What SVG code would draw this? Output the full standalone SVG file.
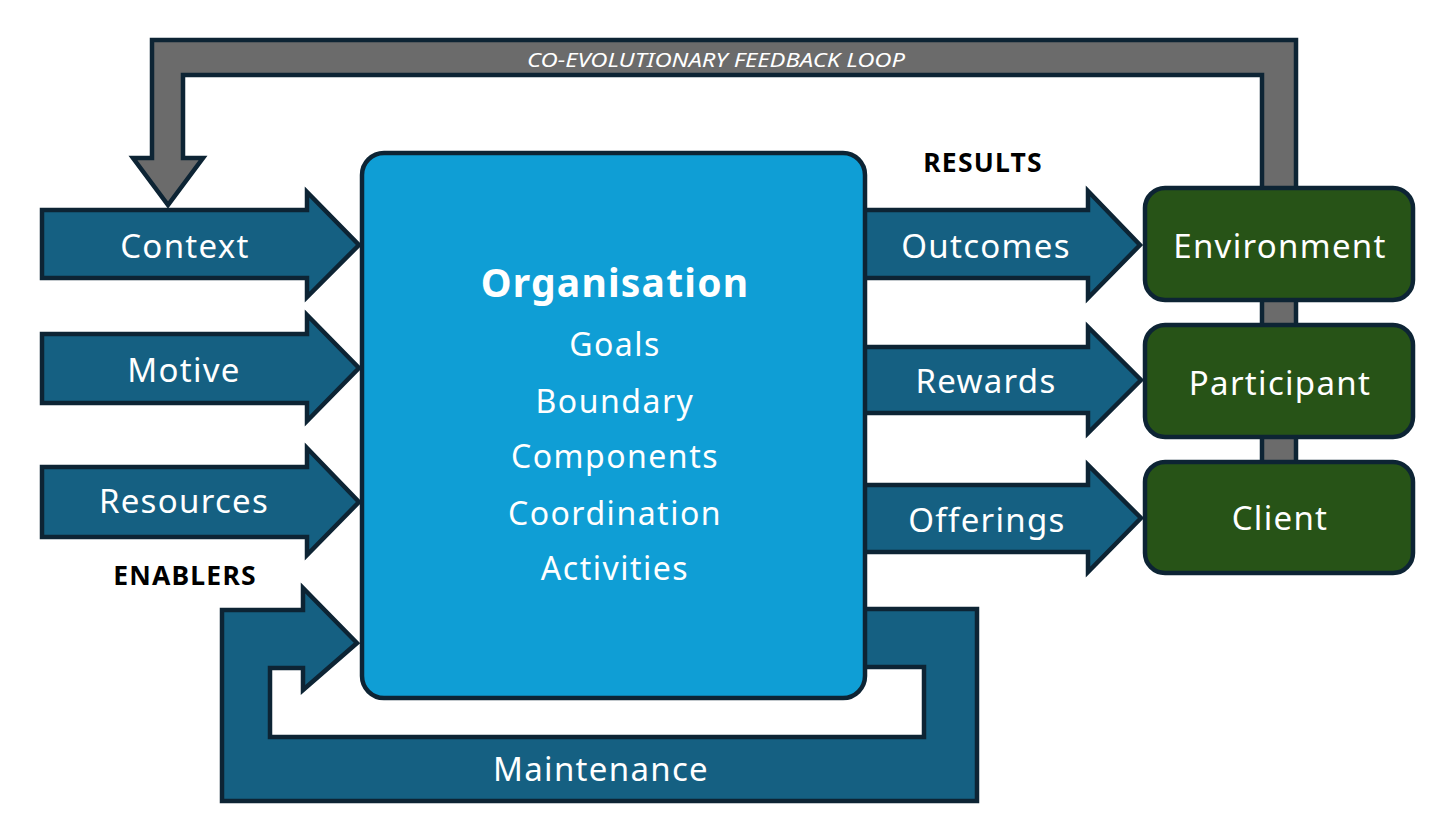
<svg xmlns="http://www.w3.org/2000/svg" width="1456" height="840" viewBox="0 0 1456 840">
  <style>
    .shape { stroke: #0d2434; stroke-width: 4.5; stroke-linejoin: miter; }
    .arrow { fill: #156082; }
    .grey { fill: #6b6b6b; }
    .org { fill: #0f9ed5; }
    .green { fill: #275317; }
    .lbl { font-family: "Noto Sans", "Open Sans", sans-serif; fill: #ffffff; font-size: 33px; text-anchor: middle; letter-spacing: 1.3px; }
    .list { font-family: "Noto Sans", "Open Sans", sans-serif; fill: #ffffff; font-size: 32px; text-anchor: middle; letter-spacing: 1.5px; }
    .title { font-family: "Noto Sans", "Open Sans", sans-serif; fill: #ffffff; font-size: 39px; font-weight: bold; text-anchor: middle; letter-spacing: 1.2px; }
    .head { font-family: "Noto Sans", "Open Sans", sans-serif; fill: #000000; font-size: 26.5px; font-weight: bold; text-anchor: middle; letter-spacing: 1.2px; }
    .loop { font-family: "Noto Sans", "Liberation Sans", sans-serif; fill: #ffffff; font-size: 19px; font-style: italic; text-anchor: middle; }
  </style>
  <rect width="1456" height="840" fill="#ffffff"/>

  <g id="connectors">
    <g id="feedback-loop">
      <path class="shape grey" d="M152,40 L1296,40 L1296,500 L1262,500 L1262,75 L183,75 L183,158 L203,158 L168,205 L133,158 L152,158 Z"/>
      <text class="loop" x="716" y="67" textLength="378" lengthAdjust="spacingAndGlyphs">CO-EVOLUTIONARY FEEDBACK LOOP</text>
    </g>
    <g id="maintenance">
      <path class="shape arrow" d="M222,610 L303,610 L303,588 L357,643 L303,690 L303,668 L270,668 L270,737 L924,737 L924,667 L850,667 L850,609 L977,609 L977,801 L222,801 Z"/>
      <text class="lbl" x="601" y="781">Maintenance</text>
    </g>
    <g id="context">
      <path class="shape arrow" d="M42,210 L307,210 L307,192 L359,245 L307,297 L307,278 L42,278 Z"/>
      <text class="lbl" x="185" y="258">Context</text>
    </g>
    <g id="motive">
      <path class="shape arrow" d="M42,334 L307,334 L307,315 L359,368 L307,421 L307,403 L42,403 Z"/>
      <text class="lbl" x="184" y="382">Motive</text>
    </g>
    <g id="resources">
      <path class="shape arrow" d="M42,467 L307,467 L307,448 L359,502 L307,555 L307,537 L42,537 Z"/>
      <text class="lbl" x="184" y="513">Resources</text>
    </g>
    <g id="outcomes">
      <path class="shape arrow" d="M850,210 L1088,210 L1088,191 L1140,245 L1088,298 L1088,278 L850,278 Z"/>
      <text class="lbl" x="986" y="258">Outcomes</text>
    </g>
    <g id="rewards">
      <path class="shape arrow" d="M850,347 L1088,347 L1088,327 L1141,380 L1088,433 L1088,413 L850,413 Z"/>
      <text class="lbl" x="986" y="393">Rewards</text>
    </g>
    <g id="offerings">
      <path class="shape arrow" d="M850,485 L1088,485 L1088,465 L1141,518 L1088,572 L1088,552 L850,552 Z"/>
      <text class="lbl" x="987" y="532">Offerings</text>
    </g>
  </g>

  <g id="organisation">
    <rect class="shape org" x="362" y="153" width="503" height="545" rx="22" ry="22"/>
    <text class="title" x="615" y="297">Organisation</text>
    <text class="list" x="615" y="356">Goals</text>
    <text class="list" x="615" y="413">Boundary</text>
    <text class="list" x="615" y="468">Components</text>
    <text class="list" x="615" y="525">Coordination</text>
    <text class="list" x="615" y="580">Activities</text>
  </g>

  <g id="environment">
    <rect class="shape green" x="1145" y="188" width="268" height="112" rx="20" ry="20"/>
    <text class="lbl" x="1280" y="258">Environment</text>
  </g>
  <g id="participant">
    <rect class="shape green" x="1145" y="325" width="268" height="112" rx="20" ry="20"/>
    <text class="lbl" x="1280" y="395">Participant</text>
  </g>
  <g id="client">
    <rect class="shape green" x="1145" y="462" width="268" height="111" rx="20" ry="20"/>
    <text class="lbl" x="1280" y="530">Client</text>
  </g>

  <g id="labels">
    <text class="head" x="983" y="172">RESULTS</text>
    <text class="head" x="185" y="585">ENABLERS</text>
  </g>
</svg>
